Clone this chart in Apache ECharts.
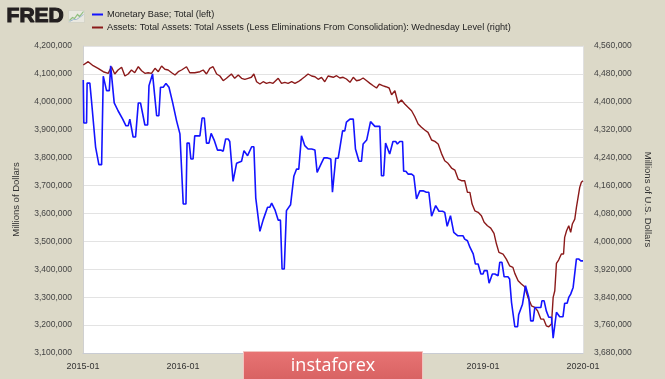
<!DOCTYPE html>
<html>
<head>
<meta charset="utf-8">
<script src="https://cdn.jsdelivr.net/npm/echarts@6/dist/echarts.min.js"></script>
<style>
html,body{margin:0;padding:0;background:#dcd9c8;}
#chart{width:665px;height:379px;}
</style>
</head>
<body>
<div id="chart"></div>
<script>
const seriesNames = [
  'Monetary Base; Total (left)',
  'Assets: Total Assets: Total Assets (Less Eliminations From Consolidation): Wednesday Level (right)'
];
const xTickLabels = ['2015-01','2016-01','2017-01','2018-01','2019-01','2020-01'];
const leftAxisName = 'Millions of Dollars';
const rightAxisName = 'Millions of U.S. Dollars';

// Monetary Base; Total (left axis), millions of dollars
const monetaryBase = [
['2015-01-02',4078000],['2015-01-04',3924000],['2015-01-14',3924000],['2015-01-16',4067000],['2015-01-26',4067000],
['2015-02-01',4004000],['2015-02-07',4004000],['2015-02-16',3838000],['2015-02-22',3838000],['2015-02-28',3775000],
['2015-03-10',3775000],['2015-03-16',4092000],['2015-03-23',4092000],['2015-03-28',4040000],['2015-04-07',4040000],
['2015-04-12',4129000],['2015-04-19',4129000],['2015-04-25',3996000],['2015-05-01',3996000],['2015-05-09',3968000],
['2015-05-16',3968000],['2015-05-26',3938000],['2015-05-30',3938000],['2015-06-07',3914000],['2015-06-15',3914000],
['2015-06-21',3938000],['2015-06-27',3938000],['2015-07-03',3874000],['2015-07-12',3874000],['2015-07-22',3996000],
['2015-07-30',3996000],['2015-08-05',3989000],['2015-08-15',3917000],['2015-08-25',3917000],['2015-08-30',4058000],
['2015-09-05',4058000],['2015-09-12',4100000],['2015-09-17',4100000],['2015-09-27',3950000],['2015-10-05',3950000],
['2015-10-11',4052000],['2015-10-21',4052000],['2015-10-31',4066000],['2015-11-11',4052000],['2015-11-24',3999000],
['2015-12-09',3931000],['2015-12-15',3931000],['2015-12-21',3885000],['2015-12-27',3885000],['2016-01-02',3634000],
['2016-01-12',3634000],['2016-01-16',3852000],['2016-01-24',3852000],['2016-01-30',3795000],['2016-02-07',3795000],
['2016-02-13',3878000],['2016-03-03',3878000],['2016-03-11',3942000],['2016-03-19',3942000],['2016-03-27',3852000],
['2016-04-05',3852000],['2016-04-13',3887000],['2016-04-17',3887000],['2016-04-24',3863000],['2016-04-30',3863000],
['2016-05-06',3827000],['2016-05-18',3827000],['2016-05-27',3823000],['2016-06-05',3867000],['2016-06-14',3867000],
['2016-06-20',3858000],['2016-06-26',3858000],['2016-07-02',3715000],['2016-07-08',3715000],['2016-07-15',3780000],
['2016-07-21',3787000],['2016-08-02',3787000],['2016-08-11',3825000],['2016-08-17',3825000],['2016-08-24',3807000],
['2016-08-30',3807000],['2016-09-08',3839000],['2016-09-16',3839000],['2016-09-23',3655000],['2016-09-28',3655000],
['2016-10-08',3536000],['2016-10-14',3536000],['2016-10-20',3577000],['2016-10-26',3577000],['2016-11-05',3622000],
['2016-11-13',3622000],['2016-11-20',3637000],['2016-11-25',3637000],['2016-12-02',3613000],['2016-12-08',3613000],
['2016-12-14',3576000],['2016-12-22',3576000],['2016-12-28',3401000],['2017-01-05',3401000],['2017-01-13',3610000],
['2017-01-19',3610000],['2017-01-28',3631000],['2017-02-03',3631000],['2017-02-09',3733000],['2017-02-13',3733000],
['2017-02-19',3759000],['2017-02-27',3759000],['2017-03-09',3878000],['2017-03-15',3878000],['2017-03-21',3843000],
['2017-03-27',3843000],['2017-04-02',3831000],['2017-04-15',3831000],['2017-04-20',3827000],['2017-04-27',3827000],
['2017-05-05',3747000],['2017-05-12',3747000],['2017-05-19',3777000],['2017-05-30',3799000],['2017-06-12',3799000],
['2017-06-18',3795000],['2017-06-24',3795000],['2017-06-30',3676000],['2017-07-05',3676000],['2017-07-12',3798000],
['2017-07-21',3798000],['2017-07-27',3834000],['2017-08-06',3896000],['2017-08-14',3896000],['2017-08-20',3927000],
['2017-08-26',3927000],['2017-09-02',3938000],['2017-09-14',3938000],['2017-09-22',3831000],['2017-09-28',3831000],
['2017-10-05',3787000],['2017-10-14',3787000],['2017-10-20',3849000],['2017-10-26',3849000],['2017-11-02',3863000],
['2017-11-07',3863000],['2017-11-16',3929000],['2017-11-23',3929000],['2017-12-02',3912000],['2017-12-20',3912000],
['2017-12-26',3735000],['2018-01-03',3735000],['2018-01-10',3852000],['2018-01-16',3852000],['2018-01-25',3813000],
['2018-02-01',3813000],['2018-02-06',3858000],['2018-02-16',3858000],['2018-02-22',3849000],['2018-03-03',3858000],
['2018-03-13',3858000],['2018-03-17',3751000],['2018-03-25',3751000],['2018-04-02',3741000],['2018-04-15',3741000],
['2018-04-23',3735000],['2018-05-03',3652000],['2018-05-09',3652000],['2018-05-15',3681000],['2018-05-27',3681000],
['2018-06-08',3676000],['2018-06-17',3676000],['2018-06-27',3590000],['2018-07-03',3590000],['2018-07-12',3628000],
['2018-07-17',3628000],['2018-07-24',3608000],['2018-08-06',3608000],['2018-08-14',3604000],['2018-08-23',3554000],
['2018-08-29',3554000],['2018-09-04',3592000],['2018-09-10',3592000],['2018-09-16',3532000],['2018-09-22',3532000],
['2018-10-01',3520000],['2018-10-20',3520000],['2018-10-26',3508000],['2018-11-05',3502000],['2018-11-14',3479000],
['2018-11-20',3479000],['2018-11-26',3455000],['2018-12-04',3419000],['2018-12-14',3419000],['2018-12-24',3383000],
['2019-01-01',3383000],['2019-01-05',3395000],['2019-01-16',3395000],['2019-01-23',3350000],['2019-01-29',3350000],
['2019-02-04',3383000],['2019-02-13',3383000],['2019-02-19',3377000],['2019-02-25',3377000],['2019-03-03',3425000],
['2019-03-11',3425000],['2019-03-19',3373000],['2019-04-02',3373000],['2019-04-08',3365000],['2019-04-15',3281000],
['2019-04-20',3281000],['2019-04-27',3194000],['2019-05-07',3194000],['2019-05-11',3237000],['2019-05-18',3237000],
['2019-05-25',3275000],['2019-05-30',3275000],['2019-06-05',3341000],['2019-06-12',3341000],['2019-06-17',3299000],
['2019-06-24',3215000],['2019-07-03',3215000],['2019-07-09',3263000],['2019-07-31',3263000],['2019-08-04',3287000],
['2019-08-12',3287000],['2019-08-20',3251000],['2019-08-29',3228000],['2019-09-08',3228000],['2019-09-14',3153000],
['2019-09-20',3153000],['2019-09-26',3246000],['2019-10-02',3246000],['2019-10-08',3230000],['2019-10-20',3230000],
['2019-10-26',3278000],['2019-11-04',3278000],['2019-11-10',3299000],['2019-11-17',3311000],['2019-11-26',3335000],
['2019-12-02',3335000],['2019-12-08',3437000],['2019-12-16',3437000],['2019-12-24',3430000],['2020-01-01',3430000]
];

// Total Assets, Wednesday level (right axis), millions of U.S. dollars
const totalAssets = [
['2015-01-02',4505500],['2015-01-20',4515000],['2015-02-07',4503500],['2015-02-25',4496000],['2015-03-16',4486300],
['2015-04-03',4481700],['2015-04-15',4500600],['2015-04-27',4479700],['2015-05-09',4491200],['2015-05-22',4498900],
['2015-06-03',4474000],['2015-06-15',4479700],['2015-06-27',4491200],['2015-07-09',4483400],['2015-07-22',4500600],
['2015-08-03',4489200],['2015-08-15',4481700],['2015-08-27',4483400],['2015-09-08',4481700],['2015-09-21',4496000],
['2015-10-03',4486300],['2015-10-15',4502700],['2015-10-27',4493200],['2015-11-08',4491200],['2015-11-21',4483400],
['2015-12-03',4476800],['2015-12-15',4486300],['2015-12-27',4491200],['2016-01-14',4500600],['2016-01-26',4483400],
['2016-02-13',4483400],['2016-03-03',4486300],['2016-03-15',4491200],['2016-03-27',4479700],['2016-04-08',4496000],
['2016-04-20',4500600],['2016-05-03',4479700],['2016-05-15',4474000],['2016-05-27',4460500],['2016-06-08',4467400],
['2016-06-26',4479700],['2016-07-08',4467400],['2016-07-21',4476800],['2016-08-02',4467400],['2016-08-14',4464500],
['2016-08-26',4467400],['2016-09-07',4470300],['2016-09-16',4479700],['2016-09-26',4457600],['2016-10-08',4451000],
['2016-10-20',4457600],['2016-11-01',4453000],['2016-11-13',4455900],['2016-11-25',4453000],['2016-12-02',4448200],
['2016-12-14',4467400],['2016-12-26',4453000],['2017-01-07',4455900],['2017-01-19',4453000],['2017-02-01',4457600],
['2017-02-13',4453000],['2017-02-25',4457600],['2017-03-09',4464500],['2017-03-21',4472000],['2017-04-02',4479700],
['2017-04-15',4474000],['2017-04-27',4472000],['2017-05-09',4464500],['2017-05-21',4470300],['2017-06-02',4457600],
['2017-06-14',4474000],['2017-06-20',4474800],['2017-07-03',4470300],['2017-07-15',4474800],['2017-07-27',4468200],
['2017-08-08',4470300],['2017-08-20',4465400],['2017-09-02',4455900],['2017-09-14',4470300],['2017-09-26',4460500],
['2017-10-08',4462500],['2017-10-20',4468200],['2017-11-02',4460500],['2017-11-14',4453000],['2017-11-26',4446200],
['2017-12-08',4439600],['2017-12-18',4451000],['2017-12-30',4446200],['2018-01-11',4443300],['2018-01-23',4439600],
['2018-02-01',4420400],['2018-02-13',4431800],['2018-02-25',4395700],['2018-03-09',4405200],['2018-03-21',4393700],
['2018-04-02',4384200],['2018-04-15',4374500],['2018-04-27',4357300],['2018-05-09',4336300],['2018-05-21',4326900],
['2018-06-02',4319100],['2018-06-14',4312500],['2018-06-27',4290500],['2018-07-09',4286700],['2018-07-21',4279000],
['2018-08-02',4252300],['2018-08-14',4231100],['2018-08-26',4223700],['2018-09-08',4210200],['2018-09-20',4204400],
['2018-10-02',4178600],['2018-10-14',4173800],['2018-10-26',4173800],['2018-11-05',4140500],['2018-11-14',4140500],
['2018-11-22',4107000],['2018-12-02',4087700],['2018-12-14',4083200],['2018-12-26',4073400],['2019-01-05',4054500],
['2019-01-17',4044700],['2019-01-29',4038100],['2019-02-10',4022900],['2019-02-19',3992300],['2019-02-28',3968500],
['2019-03-15',3963600],['2019-03-27',3949200],['2019-04-08',3930000],['2019-04-20',3925400],['2019-04-27',3908200],
['2019-05-09',3887000],['2019-05-21',3877600],['2019-06-02',3869800],['2019-06-14',3839400],['2019-06-27',3815300],
['2019-07-09',3810700],['2019-07-19',3801000],['2019-07-31',3777200],['2019-08-10',3777200],['2019-08-20',3758000],
['2019-08-29',3755100],['2019-09-08',3762900],['2019-09-14',3839400],['2019-09-20',3858400],['2019-09-26',3936900],
['2019-10-04',3946400],['2019-10-14',3963600],['2019-10-22',3963600],['2019-10-26',4011500],['2019-11-02',4030400],
['2019-11-10',4044700],['2019-11-17',4025800],['2019-11-23',4049600],['2019-12-02',4063900],['2019-12-08',4097500],
['2019-12-14',4126200],['2019-12-20',4154800],['2019-12-26',4169200],['2020-01-01',4173800]
];

const fmt = v => String(Math.round(v)).replace(/\B(?=(\d{3})+(?!\d))/g, ',');
const FONT = 'Liberation Sans';
const YEAR = 365.25 * 24 * 3600 * 1000;

const chart = echarts.init(document.getElementById('chart'), null, {renderer: 'canvas'});
chart.setOption({
  backgroundColor: '#dcd9c8',
  animation: false,
  textStyle: {fontFamily: FONT},
  legend: {
    orient: 'vertical', left: 92, top: 10, padding: 0, itemGap: 4,
    itemWidth: 11, itemHeight: 2, icon: 'rect',
    textStyle: {fontSize: 9.2, color: '#222', fontFamily: FONT, padding: [0, 0, 0, -1]},
    data: seriesNames
  },
  grid: {left: 83, right: 82, top: 46, bottom: 26, show: true, backgroundColor: '#ffffff', borderWidth: 0, containLabel: false},
  xAxis: {
    type: 'time', min: '2015-01-01', max: '2020-01-01',
    minInterval: YEAR * 0.99, maxInterval: YEAR * 1.01,
    axisLine: {show: true, lineStyle: {color: '#c9ccd3', width: 1}},
    axisTick: {show: false},
    splitLine: {show: false},
    axisLabel: {
      color: '#333', fontSize: 9, margin: 9, fontFamily: FONT,
      showMinLabel: true, showMaxLabel: true, hideOverlap: false,
      formatter: v => {
        const d = new Date(v);
        const lbl = d.getUTCFullYear() + '-01';
        return xTickLabels.indexOf(lbl) >= 0 ? lbl : '';
      }
    }
  },
  yAxis: [
    {
      type: 'value', position: 'left', min: 3100000, max: 4200000, interval: 100000,
      name: leftAxisName, nameLocation: 'middle', nameGap: 62, nameRotate: 90,
      nameTextStyle: {color: '#333', fontSize: 9.5, fontFamily: FONT},
      axisLine: {show: true, lineStyle: {color: '#d0d0d0'}},
      axisTick: {show: false},
      splitLine: {show: true, lineStyle: {color: '#e3e3e3', width: 1}},
      axisLabel: {color: '#444', fontSize: 8.5, margin: 11, fontFamily: FONT, formatter: fmt}
    },
    {
      type: 'value', position: 'right', min: 3680000, max: 4560000, interval: 80000,
      name: rightAxisName, nameLocation: 'middle', nameGap: 60, nameRotate: -90,
      nameTextStyle: {color: '#333', fontSize: 9.5, fontFamily: FONT},
      axisLine: {show: true, lineStyle: {color: '#e0e0e0'}},
      axisTick: {show: false},
      splitLine: {show: false},
      axisLabel: {color: '#444', fontSize: 8.5, margin: 11, fontFamily: FONT, formatter: fmt}
    }
  ],
  series: [
    {
      name: seriesNames[0], type: 'line', yAxisIndex: 0, data: monetaryBase,
      showSymbol: false, symbol: 'none', lineStyle: {color: '#1414ff', width: 1.6}, itemStyle: {color: '#1414ff'},
      z: 3
    },
    {
      name: seriesNames[1], type: 'line', yAxisIndex: 1, data: totalAssets,
      showSymbol: false, symbol: 'none', lineStyle: {color: '#8b1a1a', width: 1.4}, itemStyle: {color: '#8b1a1a'},
      z: 2
    }
  ],
  graphic: [
    {type: 'text', left: 6, top: 5, z: 100, style: {text: 'FRED', fontSize: 21, fontWeight: 'bold', fill: '#231f20', stroke: '#231f20', lineWidth: 1.2, fontFamily: FONT}},
    {type: 'group', left: 67, top: 9, z: 100, children: [
      {type: 'rect', z: 100, shape: {x: 0, y: 0, width: 16, height: 12}, style: {fill: '#e9e8e0', stroke: '#c8c8bc', lineWidth: 0.5}},
      {type: 'polyline', z: 101, shape: {points: [[1,10],[4,7],[6,8],[9,4],[11,6],[15,1]]}, style: {stroke: '#8fbf7f', lineWidth: 1.2, fill: null}},
      {type: 'polyline', z: 101, shape: {points: [[1,11],[5,9],[8,9],[11,7],[15,4]]}, style: {stroke: '#9fb7cf', lineWidth: 1, fill: null}}
    ]},
    {type: 'group', left: 243, top: 351, z: 200, zlevel: 1, children: [
      {type: 'rect', z: 200, zlevel: 1, shape: {x: 0, y: 0, width: 179, height: 28}, style: {
        fill: new echarts.graphic.LinearGradient(0, 0, 0, 1, [{offset: 0, color: '#e87474'}, {offset: 1, color: '#d86262'}]),
        stroke: '#f2c4c0', lineWidth: 1}},
      {type: 'text', z: 201, zlevel: 1, x: 89.5, y: 14, style: {text: 'instaforex', fontSize: 18, fill: '#ffffff', fontFamily: 'Open Sans', align: 'center', verticalAlign: 'middle'}}
    ]}
  ]
});
</script>
</body>
</html>
